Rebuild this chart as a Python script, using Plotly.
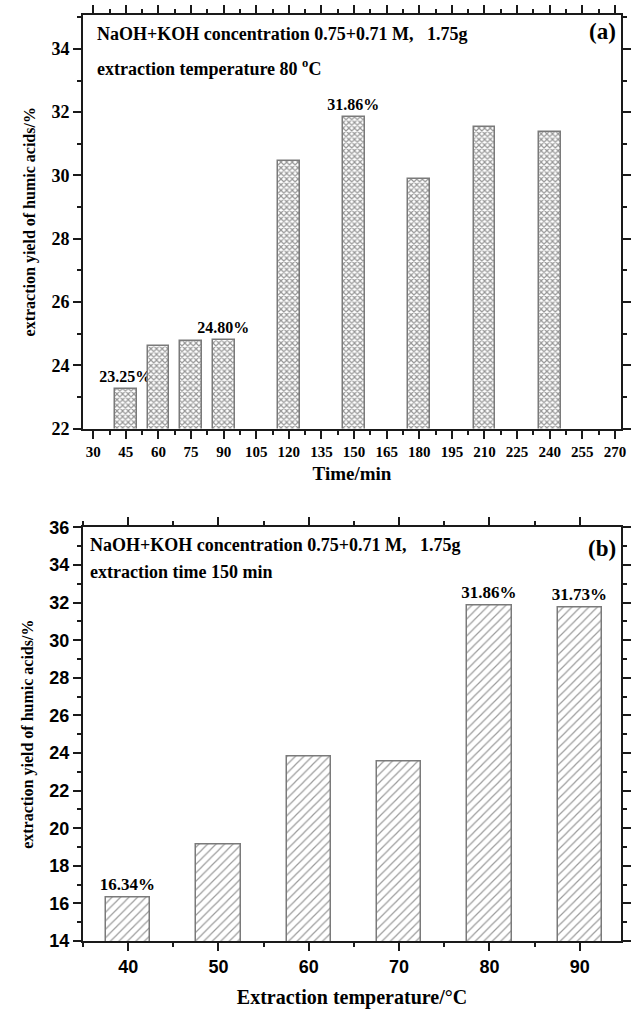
import plotly.graph_objects as go

# Panel (a): extraction yield vs. time at 80 °C
time_min = [45, 60, 75, 90, 120, 150, 180, 210, 240]
yield_time = [23.25, 24.62, 24.77, 24.80, 30.45, 31.86, 29.88, 31.53, 31.36]
labelled_time = [45, 90, 150]

# Panel (b): extraction yield vs. temperature at 150 min
temp_c = [40, 50, 60, 70, 80, 90]
yield_temp = [16.34, 19.15, 23.82, 23.55, 31.86, 31.73]
labelled_temp = [40, 80, 90]

time_ticks = list(range(30, 271, 15))
temp_ticks = [40, 50, 60, 70, 80, 90]
yticks_a = list(range(22, 35, 2))
yticks_b = list(range(14, 37, 2))

SERIF = "Liberation Serif"
SANS = "Liberation Sans"

fig = go.Figure()

fig.add_trace(go.Bar(
    x=time_min, y=yield_time, width=10, xaxis="x", yaxis="y",
    marker=dict(color="white", line=dict(color="#7a7a7a", width=1.5),
                pattern=dict(shape="x", fgcolor="#2e2e2e", bgcolor="white",
                             size=4, solidity=0.5)),
    text=[f"<b>{v:.2f}%</b>" if t in labelled_time else "" for t, v in zip(time_min, yield_time)],
    textposition="outside", cliponaxis=False, constraintext="none",
    textfont=dict(family=SERIF, size=16, color="black"),
    showlegend=False,
))

fig.add_trace(go.Bar(
    x=temp_c, y=yield_temp, width=4.9, xaxis="x2", yaxis="y2",
    marker=dict(color="white", line=dict(color="#7a7a7a", width=1.5),
                pattern=dict(shape="/", fgcolor="#3a3a3a", bgcolor="white",
                             size=6, solidity=0.2)),
    text=[f"<b>{v:.2f}%</b>" if t in labelled_temp else "" for t, v in zip(temp_c, yield_temp)],
    textposition="outside", cliponaxis=False, constraintext="none",
    textfont=dict(family=SERIF, size=17, color="black"),
    showlegend=False,
))

axis_common = dict(showline=True, linecolor="#1a1a1a", linewidth=2, mirror="ticks",
                   ticks="outside", ticklen=8, tickwidth=2, tickcolor="#1a1a1a",
                   showgrid=False, zeroline=False)
minor = dict(ticks="outside", ticklen=4, tickwidth=1.5, tickcolor="#1a1a1a", showgrid=False)

fig.update_layout(
    width=636, height=1010,
    margin=dict(l=83, r=5, t=15, b=68),
    plot_bgcolor="white", paper_bgcolor="white",
    bargap=0,
    xaxis=dict(**axis_common, domain=[0, 1], anchor="y", range=[25.3, 272.8],
               tickvals=time_ticks, ticktext=[f"<b>{t}</b>" for t in time_ticks],
               tickfont=dict(family=SERIF, size=15, color="black"),
               minor=dict(**minor, dtick=7.5, tick0=30),
               title=dict(text="<b>Time/min</b>", font=dict(family=SERIF, size=19, color="black"),
                          standoff=8)),
    yaxis=dict(**axis_common, domain=[0.5534, 1], anchor="x", range=[22, 35.07],
               tickvals=yticks_a, ticktext=[f"<b>{t}</b>" for t in yticks_a],
               tickfont=dict(family=SERIF, size=18, color="black"),
               minor=dict(**minor, dtick=1, tick0=22),
               title=dict(text="<b>extraction yield of humic acids/%</b>",
                          font=dict(family=SERIF, size=16, color="black"), standoff=12)),
    xaxis2=dict(**axis_common, domain=[0, 1], anchor="y2", range=[35, 94.57],
                tickvals=temp_ticks, ticktext=[f"<b>{t}</b>" for t in temp_ticks],
                tickfont=dict(family=SANS, size=18, color="black"),
                minor=dict(**minor, dtick=5, tick0=35),
                title=dict(text="<b>Extraction temperature/°C</b>",
                           font=dict(family=SERIF, size=20, color="black"), standoff=14)),
    yaxis2=dict(**axis_common, domain=[0, 0.4466], anchor="x2", range=[14, 36],
                tickvals=yticks_b, ticktext=[f"<b>{t}</b>" for t in yticks_b],
                tickfont=dict(family=SANS, size=18, color="black"),
                minor=dict(**minor, dtick=1, tick0=14),
                title=dict(text="<b>extraction yield of humic acids/%</b>",
                           font=dict(family=SERIF, size=16, color="black"), standoff=12)),
)

note_font = dict(family=SERIF, size=18, color="black")
tag_font = dict(family=SERIF, size=23, color="black")

# Condition notes and panel tags (positions in axis-domain fractions)
fig.add_annotation(xref="x domain", yref="y domain", x=0.022, y=0.955,
                   xanchor="left", yanchor="middle", showarrow=False, font=note_font,
                   text="<b>NaOH+KOH concentration 0.75+0.71 M,   1.75g</b>")
fig.add_annotation(xref="x domain", yref="y domain", x=0.022, y=0.872,
                   xanchor="left", yanchor="middle", showarrow=False, font=note_font,
                   text="<b>extraction temperature 80 <sup>o</sup>C</b>")
fig.add_annotation(xref="x domain", yref="y domain", x=0.995, y=0.96,
                   xanchor="right", yanchor="middle", showarrow=False, font=tag_font,
                   text="<b>(a)</b>")

fig.add_annotation(xref="x2 domain", yref="y2 domain", x=0.01, y=0.958,
                   xanchor="left", yanchor="middle", showarrow=False, font=note_font,
                   text="<b>NaOH+KOH concentration 0.75+0.71 M,   1.75g</b>")
fig.add_annotation(xref="x2 domain", yref="y2 domain", x=0.01, y=0.893,
                   xanchor="left", yanchor="middle", showarrow=False, font=note_font,
                   text="<b>extraction time 150 min</b>")
fig.add_annotation(xref="x2 domain", yref="y2 domain", x=0.995, y=0.95,
                   xanchor="right", yanchor="middle", showarrow=False, font=tag_font,
                   text="<b>(b)</b>")

fig.write_html("out.html")
